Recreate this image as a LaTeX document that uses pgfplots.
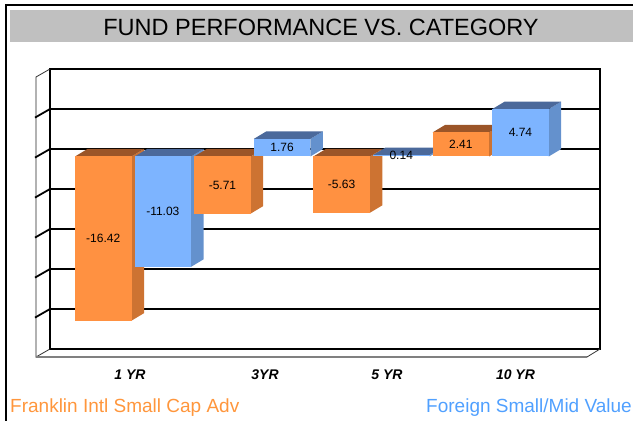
\documentclass[border=0pt]{standalone}
\usepackage{pgfplots}
\pgfplotsset{compat=1.18}
\usepackage{fontspec}
\setmainfont{Liberation Sans}
\definecolor{titlegray}{RGB}{192,192,192}
\definecolor{oF}{RGB}{255,145,65}
\definecolor{oS}{RGB}{205,115,50}
\definecolor{oT}{RGB}{155,85,40}
\definecolor{bF}{RGB}{125,180,255}
\definecolor{bS}{RGB}{100,145,205}
\definecolor{bT}{RGB}{75,105,155}
\definecolor{legor}{RGB}{255,150,60}
\definecolor{legbl}{RGB}{80,160,255}
\begin{document}
\begin{tikzpicture}
\useasboundingbox (0pt,0pt) rectangle (633pt,421pt);
% frame and title band
\fill[titlegray] (10pt,379pt) rectangle (633pt,411pt);
\draw[black, line width=2pt] (6pt,0pt) -- (6pt,415.5pt) -- (634pt,415.5pt);
\node[anchor=base, font=\fontsize{23.5}{28}\selectfont] at (321pt,385pt) {FUND PERFORMANCE VS. CATEGORY};
% back wall axis
\begin{axis}[at={(50pt,72pt)}, anchor=south west, scale only axis,
  width=550pt, height=280pt, xmin=50, xmax=600, ymin=-20, ymax=8,
  ytick={-20,-16,-12,-8,-4,0,4,8}, yticklabels={}, xtick=\empty,
  ymajorgrids, grid style={black, line width=1.8pt},
  axis line style={black, line width=1.8pt}, major tick length=0pt,
  clip=false]
  % left wall
  \draw[black!85, line width=0.8pt] (axis cs:50,8) -- (axis cs:36,7.2) -- (axis cs:36,-20.8) -- (axis cs:50,-20);
  \draw[black, line width=1.8pt] (axis cs:50,4) -- (axis cs:35,3.14);
  \draw[black, line width=1.8pt] (axis cs:50,0) -- (axis cs:35,-0.86);
  \draw[black, line width=1.8pt] (axis cs:50,-4) -- (axis cs:35,-4.86);
  \draw[black, line width=1.8pt] (axis cs:50,-8) -- (axis cs:35,-8.86);
  \draw[black, line width=1.8pt] (axis cs:50,-12) -- (axis cs:35,-12.86);
  \draw[black, line width=1.8pt] (axis cs:50,-16) -- (axis cs:35,-16.86);
  % floor
  \draw[black!50, line width=1.3pt] (axis cs:36,-20.8) -- (axis cs:587,-20.8);
  \draw[black!80, line width=0.8pt] (axis cs:587,-20.8) -- (axis cs:600,-20);
  % category labels
  \node[anchor=base, font=\bfseries\itshape\fontsize{14}{16}\selectfont] at (axis cs:130,-23) {1 YR};
  \node[anchor=base, font=\bfseries\itshape\fontsize{14}{16}\selectfont] at (axis cs:265,-23) {3YR};
  \node[anchor=base, font=\bfseries\itshape\fontsize{14}{16}\selectfont] at (axis cs:387,-23) {5 YR};
  \node[anchor=base, font=\bfseries\itshape\fontsize{14}{16}\selectfont] at (axis cs:515.5,-23) {10 YR};
\end{axis}
% bars (front plane)
\begin{axis}[at={(50pt,64.5pt)}, anchor=south west, scale only axis,
  width=550pt, height=280pt, xmin=50, xmax=600, ymin=-20, ymax=8,
  hide axis, clip=false]
  % 1 YR Franklin -16.42
  \addplot[fill=oS, draw=none] coordinates {(131.5,0) (144,0.75) (144,-15.67) (131.5,-16.42)};
  \addplot[fill=oT, draw=none] coordinates {(75,0) (131.5,0) (144,0.75) (87.5,0.75)};
  \addplot[fill=oF, draw=none] coordinates {(75,0) (131.5,0) (131.5,-16.42) (75,-16.42)};
  % 1 YR Category -11.03
  \addplot[fill=bS, draw=none] coordinates {(191.1,0) (203.6,0.75) (203.6,-10.28) (191.1,-11.03)};
  \addplot[fill=bT, draw=none] coordinates {(134.6,0) (191.1,0) (203.6,0.75) (147.1,0.75)};
  \addplot[fill=bF, draw=none] coordinates {(134.6,0) (191.1,0) (191.1,-11.03) (134.6,-11.03)};
  % 3YR Franklin -5.71
  \addplot[fill=oS, draw=none] coordinates {(250.7,0) (263.2,0.75) (263.2,-4.96) (250.7,-5.71)};
  \addplot[fill=oT, draw=none] coordinates {(194.2,0) (250.7,0) (263.2,0.75) (206.7,0.75)};
  \addplot[fill=oF, draw=none] coordinates {(194.2,0) (250.7,0) (250.7,-5.71) (194.2,-5.71)};
  % 3YR Category 1.76
  \addplot[fill=bS, draw=none] coordinates {(310.3,0) (322.8,0.75) (322.8,2.51) (310.3,1.76)};
  \addplot[fill=bT, draw=none] coordinates {(253.8,1.76) (310.3,1.76) (322.8,2.51) (266.3,2.51)};
  \addplot[fill=bF, draw=none] coordinates {(253.8,0) (310.3,0) (310.3,1.76) (253.8,1.76)};
  % 5 YR Franklin -5.63
  \addplot[fill=oS, draw=none] coordinates {(369.9,0) (382.4,0.75) (382.4,-4.88) (369.9,-5.63)};
  \addplot[fill=oT, draw=none] coordinates {(313.4,0) (369.9,0) (382.4,0.75) (325.9,0.75)};
  \addplot[fill=oF, draw=none] coordinates {(313.4,0) (369.9,0) (369.9,-5.63) (313.4,-5.63)};
  % 5 YR Category 0.14
  \addplot[fill=bS, draw=none] coordinates {(429.5,0) (442,0.75) (442,0.89) (429.5,0.14)};
  \addplot[fill=bT, draw=none] coordinates {(373,0.14) (429.5,0.14) (442,0.89) (385.5,0.89)};
  \addplot[fill=bF, draw=none] coordinates {(373,0) (429.5,0) (429.5,0.14) (373,0.14)};
  % 10 YR Franklin 2.41
  \addplot[fill=oS, draw=none] coordinates {(489.1,0) (501.6,0.75) (501.6,3.16) (489.1,2.41)};
  \addplot[fill=oT, draw=none] coordinates {(432.6,2.41) (489.1,2.41) (501.6,3.16) (445.1,3.16)};
  \addplot[fill=oF, draw=none] coordinates {(432.6,0) (489.1,0) (489.1,2.41) (432.6,2.41)};
  % 10 YR Category 4.74
  \addplot[fill=bS, draw=none] coordinates {(548.7,0) (561.2,0.75) (561.2,5.49) (548.7,4.74)};
  \addplot[fill=bT, draw=none] coordinates {(492.2,4.74) (548.7,4.74) (561.2,5.49) (504.7,5.49)};
  \addplot[fill=bF, draw=none] coordinates {(492.2,0) (548.7,0) (548.7,4.74) (492.2,4.74)};
  % value labels
  \node[font=\fontsize{12}{14}\selectfont] at (axis cs:103.25,-8.21) {-16.42};
  \node[font=\fontsize{12}{14}\selectfont] at (axis cs:162.85,-5.515) {-11.03};
  \node[font=\fontsize{12}{14}\selectfont] at (axis cs:222.45,-2.855) {-5.71};
  \node[font=\fontsize{12}{14}\selectfont] at (axis cs:282.05,0.88) {1.76};
  \node[font=\fontsize{12}{14}\selectfont] at (axis cs:341.65,-2.815) {-5.63};
  \node[font=\fontsize{12}{14}\selectfont] at (axis cs:401.25,0.07) {0.14};
  \node[font=\fontsize{12}{14}\selectfont] at (axis cs:460.85,1.205) {2.41};
  \node[font=\fontsize{12}{14}\selectfont] at (axis cs:520.45,2.37) {4.74};
\end{axis}
% legend texts
\node[anchor=base west, text=legor, font=\fontsize{19}{22}\selectfont, inner sep=0pt] at (10pt,8pt) {Franklin Intl Small Cap Adv};
\node[anchor=base east, text=legbl, font=\fontsize{19}{22}\selectfont, inner sep=0pt] at (632pt,8pt) {Foreign Small/Mid Value};
\end{tikzpicture}
\end{document}
